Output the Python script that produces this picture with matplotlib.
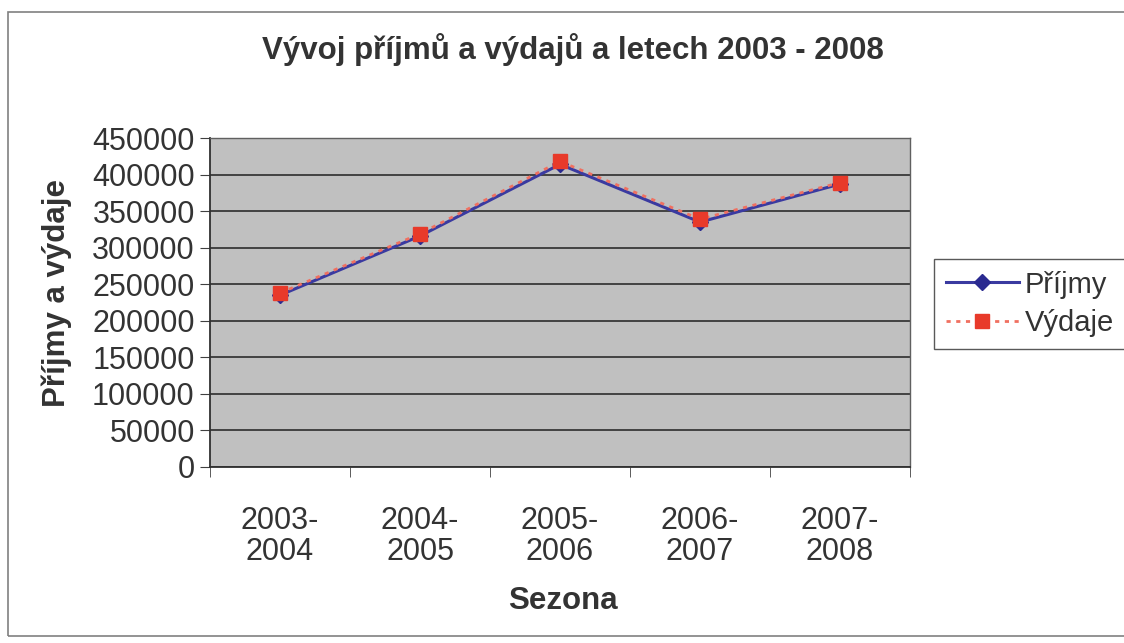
import matplotlib
matplotlib.use("Agg")
import matplotlib.pyplot as plt
from matplotlib.patches import Rectangle
import numpy as np

categories = ["2003-\n2004", "2004-\n2005", "2005-\n2006", "2006-\n2007", "2007-\n2008"]
prijmy = [235000, 316000, 414000, 335000, 387000]
vydaje = [238000, 319000, 418000, 339000, 389000]
yticks = [0, 50000, 100000, 150000, 200000, 250000, 300000, 350000, 400000, 450000]

plt.rcParams['font.family'] = ['Liberation Sans', 'DejaVu Sans']
txt = '#333333'

W, H = 1124, 643
fig = plt.figure(figsize=(W/100, H/100), dpi=100)
fig.patch.set_facecolor('white')
fig.patches.append(Rectangle((8/W, 1 - 636/H), 1120/W, 624/H, transform=fig.transFigure,
                             fill=False, edgecolor='#808080', linewidth=1.2))

ax = fig.add_axes([210/W, 1 - 467/H, 700/W, 329/H])
ax.set_facecolor('#c0c0c0')
x = np.arange(len(categories))
ax.set_xlim(-0.5, len(categories) - 0.5)
ax.set_ylim(0, 450000)
ax.set_yticks(yticks)
ax.set_yticklabels([str(v) for v in yticks])
ax.yaxis.grid(True, color='#202020', linewidth=1.1)
ax.set_axisbelow(True)
ax.set_xticks(x)
ax.set_xticklabels(categories)
ax.set_xticks(np.arange(len(categories) + 1) - 0.5, minor=True)
ax.tick_params(axis='x', which='major', length=0, pad=28, labelsize=22, colors=txt, labelcolor=txt)
ax.tick_params(axis='x', which='minor', length=7, color='#404040', direction='out')
ax.tick_params(axis='y', length=7, color='#404040', labelsize=22, labelcolor=txt, pad=4)
for t in ax.get_xticklabels():
    t.set_linespacing(1.05)
for s in ['top', 'right']:
    ax.spines[s].set_color('#606060')
    ax.spines[s].set_linewidth(1.0)
for s in ['left', 'bottom']:
    ax.spines[s].set_color('#303030')
    ax.spines[s].set_linewidth(1.3)

ax.plot(x, prijmy, color='#3a3aa0', linewidth=2.2, marker='D', markersize=8,
        markerfacecolor='#2a2a90', markeredgecolor='#2a2a90', label='Příjmy', zorder=3)
ax.plot(x, vydaje, color='#f07060', linewidth=2.0, linestyle=(0, (1.5, 2)), marker='s', markersize=10,
        markerfacecolor='#e83a2a', markeredgecolor='#e83a2a', label='Výdaje', zorder=4)

fig.text(573/W, 1 - 50/H, 'Vývoj příjmů a výdajů a letech 2003 - 2008', ha='center', va='center',
         fontsize=22.5, fontweight='bold', color=txt)
fig.text(563/W, 1 - 601/H, 'Sezona', ha='center', va='center', fontsize=22.5, fontweight='bold', color=txt)
fig.text(57/W, 1 - 293/H, 'Příjmy a výdaje', ha='center', va='center', rotation=90,
         fontsize=22.5, fontweight='bold', color=txt)

leg = fig.legend(loc='upper left', bbox_to_anchor=(934/W, 1 - 259/H), frameon=True, fancybox=False,
                 fontsize=21, handlelength=2.5, handletextpad=0.2, borderpad=0.4, labelspacing=0.35,
                 borderaxespad=0)
leg.get_frame().set_edgecolor('#303030')
leg.get_frame().set_linewidth(1.0)
for t in leg.get_texts():
    t.set_color(txt)

fig.savefig('out.png', dpi=100)
